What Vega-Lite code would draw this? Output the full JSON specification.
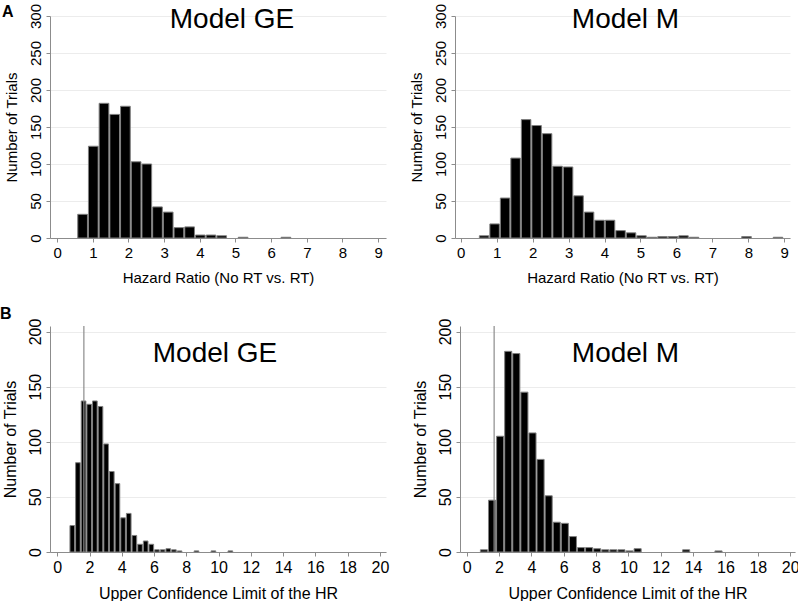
{
  "$schema": "https://vega.github.io/schema/vega-lite/v6.json",
  "padding": {"left": 0, "top": 3, "right": 0, "bottom": 0},
  "background": "white",
  "datasets": {
    "aGE": [
      {"start": 0.55, "end": 0.85, "count": 32},
      {"start": 0.85, "end": 1.15, "count": 124},
      {"start": 1.15, "end": 1.45, "count": 182},
      {"start": 1.45, "end": 1.75, "count": 167},
      {"start": 1.75, "end": 2.05, "count": 178},
      {"start": 2.05, "end": 2.35, "count": 103},
      {"start": 2.35, "end": 2.65, "count": 100},
      {"start": 2.65, "end": 2.95, "count": 42},
      {"start": 2.95, "end": 3.25, "count": 35},
      {"start": 3.25, "end": 3.55, "count": 14},
      {"start": 3.55, "end": 3.85, "count": 15},
      {"start": 3.85, "end": 4.15, "count": 4},
      {"start": 4.15, "end": 4.45, "count": 4},
      {"start": 4.45, "end": 4.75, "count": 3},
      {"start": 5.05, "end": 5.35, "count": 1},
      {"start": 6.25, "end": 6.55, "count": 1}
    ],
    "aM": [
      {"start": 0.49, "end": 0.782, "count": 3},
      {"start": 0.782, "end": 1.074, "count": 19},
      {"start": 1.074, "end": 1.366, "count": 54},
      {"start": 1.366, "end": 1.658, "count": 108},
      {"start": 1.658, "end": 1.95, "count": 160},
      {"start": 1.95, "end": 2.242, "count": 152},
      {"start": 2.242, "end": 2.534, "count": 141},
      {"start": 2.534, "end": 2.826, "count": 97},
      {"start": 2.826, "end": 3.118, "count": 96},
      {"start": 3.118, "end": 3.41, "count": 57},
      {"start": 3.41, "end": 3.702, "count": 35},
      {"start": 3.702, "end": 3.994, "count": 24},
      {"start": 3.994, "end": 4.286, "count": 24},
      {"start": 4.286, "end": 4.578, "count": 10},
      {"start": 4.578, "end": 4.87, "count": 7},
      {"start": 4.87, "end": 5.162, "count": 3},
      {"start": 5.162, "end": 5.454, "count": 1},
      {"start": 5.454, "end": 5.746, "count": 2},
      {"start": 5.746, "end": 6.038, "count": 2},
      {"start": 6.038, "end": 6.33, "count": 3},
      {"start": 6.33, "end": 6.622, "count": 1},
      {"start": 7.79, "end": 8.082, "count": 2},
      {"start": 8.666, "end": 8.958, "count": 1}
    ],
    "bGE": [
      {"start": 0.725, "end": 1.075, "count": 24},
      {"start": 1.075, "end": 1.425, "count": 81},
      {"start": 1.425, "end": 1.775, "count": 137},
      {"start": 1.775, "end": 2.125, "count": 134},
      {"start": 2.125, "end": 2.475, "count": 137},
      {"start": 2.475, "end": 2.825, "count": 132},
      {"start": 2.825, "end": 3.175, "count": 98},
      {"start": 3.175, "end": 3.525, "count": 73},
      {"start": 3.525, "end": 3.875, "count": 62},
      {"start": 3.875, "end": 4.225, "count": 31},
      {"start": 4.225, "end": 4.575, "count": 35},
      {"start": 4.575, "end": 4.925, "count": 15},
      {"start": 4.925, "end": 5.275, "count": 7},
      {"start": 5.275, "end": 5.625, "count": 10},
      {"start": 5.625, "end": 5.975, "count": 7},
      {"start": 5.975, "end": 6.325, "count": 2},
      {"start": 6.325, "end": 6.675, "count": 2},
      {"start": 6.675, "end": 7.025, "count": 3},
      {"start": 7.025, "end": 7.375, "count": 2},
      {"start": 7.375, "end": 7.725, "count": 1},
      {"start": 8.425, "end": 8.775, "count": 1},
      {"start": 9.475, "end": 9.825, "count": 1},
      {"start": 10.525, "end": 10.875, "count": 1}
    ],
    "bM": [
      {"start": 0.79, "end": 1.29, "count": 2},
      {"start": 1.29, "end": 1.79, "count": 47},
      {"start": 1.79, "end": 2.29, "count": 105},
      {"start": 2.29, "end": 2.79, "count": 182},
      {"start": 2.79, "end": 3.29, "count": 180},
      {"start": 3.29, "end": 3.79, "count": 145},
      {"start": 3.79, "end": 4.29, "count": 108},
      {"start": 4.29, "end": 4.79, "count": 84},
      {"start": 4.79, "end": 5.29, "count": 51},
      {"start": 5.29, "end": 5.79, "count": 27},
      {"start": 5.79, "end": 6.29, "count": 26},
      {"start": 6.29, "end": 6.79, "count": 14},
      {"start": 6.79, "end": 7.29, "count": 4},
      {"start": 7.29, "end": 7.79, "count": 4},
      {"start": 7.79, "end": 8.29, "count": 3},
      {"start": 8.29, "end": 8.79, "count": 2},
      {"start": 8.79, "end": 9.29, "count": 2},
      {"start": 9.29, "end": 9.79, "count": 2},
      {"start": 9.79, "end": 10.29, "count": 1},
      {"start": 10.29, "end": 10.79, "count": 3},
      {"start": 13.29, "end": 13.79, "count": 2},
      {"start": 15.29, "end": 15.79, "count": 1}
    ],
    "refGE": [{"ucl": 1.65}],
    "refM": [{"ucl": 1.7}]
  },
  "config": {
    "font": "Liberation Sans",
    "view": {"stroke": null},
    "title": {"font": "Liberation Sans", "fontSize": 28, "fontWeight": "normal", "color": "black", "baseline": "alphabetic"},
    "axis": {
      "domainColor": "#8c8c8c",
      "tickColor": "#8c8c8c",
      "gridColor": "#ececec",
      "labelFont": "Liberation Sans",
      "labelFontSize": 15,
      "labelColor": "black",
      "titleFont": "Liberation Sans",
      "titleFontSize": 15,
      "titleFontWeight": "normal",
      "titleColor": "black",
      "tickSize": 4,
      "labelFlush": false,
      "labelOverlap": false
    },
    "axisY": {"grid": true, "labelAngle": -90, "labelAlign": "center", "labelBaseline": "bottom", "labelPadding": 3, "titlePadding": 9},
    "axisX": {"grid": false, "labelPadding": 3, "titlePadding": 10}
  },
  "spacing": 21,
  "vconcat": [
    {
      "title": {"text": "A", "anchor": "start", "frame": "bounds", "fontSize": 16, "fontWeight": "bold", "offset": -17, "dx": -2},
      "spacing": 23,
      "hconcat": [
        {
          "width": 336, "height": 222,
          "title": {"text": "Model GE", "frame": "group", "offset": -31, "dx": 14},
          "data": {"name": "aGE"},
          "mark": {"type": "bar", "fill": "black", "stroke": "#7f7f7f", "strokeWidth": 1},
          "encoding": {
            "x": {"field": "start", "type": "quantitative", "bin": "binned", "scale": {"domain": [-0.2, 9.22], "nice": false, "zero": false}, "axis": {"values": [0,1,2,3,4,5,6,7,8,9], "labelOverlap": false, "title": "Hazard Ratio (No RT vs. RT)"}},
            "x2": {"field": "end"},
            "y": {"field": "count", "type": "quantitative", "scale": {"domain": [0, 300], "nice": false}, "axis": {"values": [0,50,100,150,200,250,300], "labelOverlap": false, "title": "Number of Trials"}}
          }
        },
        {
          "width": 335, "height": 222,
          "title": {"text": "Model M", "frame": "group", "offset": -31, "dx": 3},
          "data": {"name": "aM"},
          "mark": {"type": "bar", "fill": "black", "stroke": "#7f7f7f", "strokeWidth": 1},
          "encoding": {
            "x": {"field": "start", "type": "quantitative", "bin": "binned", "scale": {"domain": [-0.16, 9.16], "nice": false, "zero": false}, "axis": {"values": [0,1,2,3,4,5,6,7,8,9], "labelOverlap": false, "title": "Hazard Ratio (No RT vs. RT)"}},
            "x2": {"field": "end"},
            "y": {"field": "count", "type": "quantitative", "scale": {"domain": [0, 300], "nice": false}, "axis": {"values": [0,50,100,150,200,250,300], "labelOverlap": false, "title": "Number of Trials"}}
          }
        }
      ]
    },
    {
      "title": {"text": "B", "anchor": "start", "frame": "bounds", "fontSize": 16, "fontWeight": "bold", "offset": -4, "dx": -2},
      "spacing": 23,
      "hconcat": [
        {
          "width": 336, "height": 226,
          "title": {"text": "Model GE", "frame": "group", "offset": -50, "dx": -3},
          "layer": [
            {
              "data": {"name": "bGE"},
              "mark": {"type": "bar", "fill": "black", "stroke": "#7f7f7f", "strokeWidth": 1},
              "encoding": {
                "x": {"field": "start", "type": "quantitative", "bin": "binned", "scale": {"domain": [-0.45, 20.38], "nice": false, "zero": false}, "axis": {"values": [0,2,4,6,8,10,12,14,16,18,20], "labelOverlap": false, "labelFontSize": 16, "title": "Upper Confidence Limit of the HR", "titleFontSize": 16}},
                "x2": {"field": "end"},
                "y": {"field": "count", "type": "quantitative", "scale": {"domain": [0, 205], "nice": false}, "axis": {"values": [0,50,100,150,200], "labelOverlap": false, "labelFontSize": 16, "title": "Number of Trials", "titleFontSize": 16}}
              }
            },
            {
              "data": {"name": "refGE"},
              "mark": {"type": "rule", "color": "#8c8c8c", "strokeWidth": 1.2},
              "encoding": {"x": {"field": "ucl", "type": "quantitative", "axis": {"values": [0,2,4,6,8,10,12,14,16,18,20], "labelOverlap": false, "labelFontSize": 16, "title": "Upper Confidence Limit of the HR", "titleFontSize": 16}}}
            }
          ]
        },
        {
          "width": 335, "height": 226,
          "title": {"text": "Model M", "frame": "group", "offset": -50, "dx": -2},
          "layer": [
            {
              "data": {"name": "bM"},
              "mark": {"type": "bar", "fill": "black", "stroke": "#7f7f7f", "strokeWidth": 1},
              "encoding": {
                "x": {"field": "start", "type": "quantitative", "bin": "binned", "scale": {"domain": [-0.41, 20.3], "nice": false, "zero": false}, "axis": {"values": [0,2,4,6,8,10,12,14,16,18,20], "labelOverlap": false, "labelFontSize": 16, "title": "Upper Confidence Limit of the HR", "titleFontSize": 16}},
                "x2": {"field": "end"},
                "y": {"field": "count", "type": "quantitative", "scale": {"domain": [0, 205], "nice": false}, "axis": {"values": [0,50,100,150,200], "labelOverlap": false, "labelFontSize": 16, "title": "Number of Trials", "titleFontSize": 16}}
              }
            },
            {
              "data": {"name": "refM"},
              "mark": {"type": "rule", "color": "#8c8c8c", "strokeWidth": 1.2},
              "encoding": {"x": {"field": "ucl", "type": "quantitative", "axis": {"values": [0,2,4,6,8,10,12,14,16,18,20], "labelOverlap": false, "labelFontSize": 16, "title": "Upper Confidence Limit of the HR", "titleFontSize": 16}}}
            }
          ]
        }
      ]
    }
  ]
}
